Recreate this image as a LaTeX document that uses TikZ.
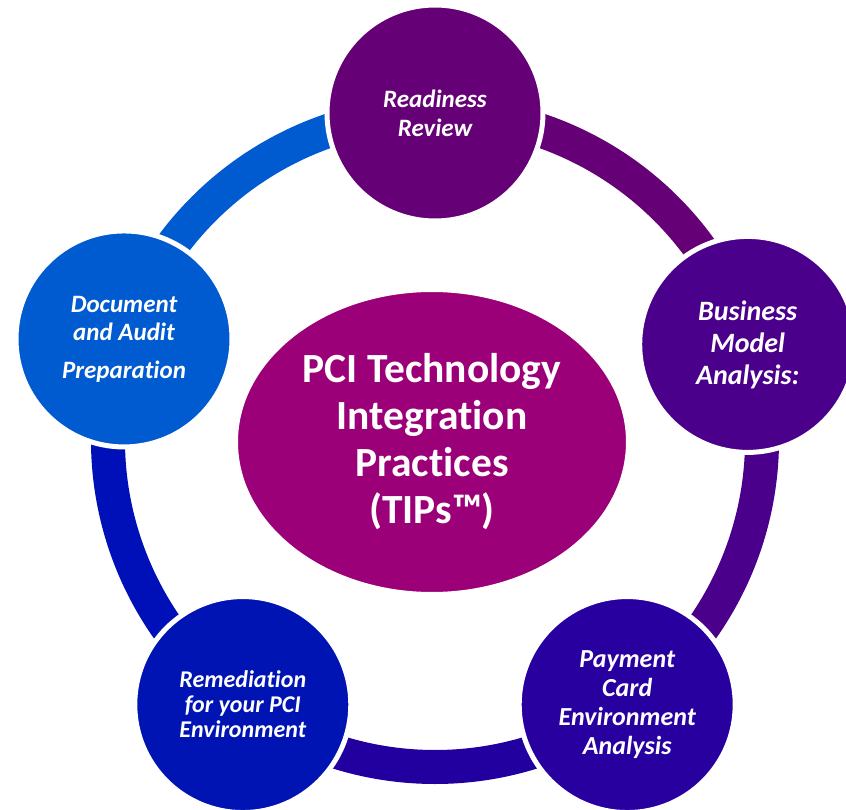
\documentclass[tikz,border=0pt]{standalone}
\usepackage{fontspec}
\setmainfont{Carlito}[Ligatures=NoCommon]
\usetikzlibrary{shapes.geometric,backgrounds}
\definecolor{cRR}{HTML}{660077}
\definecolor{cDA}{HTML}{005AD0}
\definecolor{cBM}{HTML}{4B008C}
\definecolor{cPC}{HTML}{2800A0}
\definecolor{cRE}{HTML}{0014B4}
\definecolor{cMID}{HTML}{9B0078}
\definecolor{aTL}{HTML}{005AD0}
\definecolor{aL}{HTML}{0010B8}
\definecolor{aB}{HTML}{2200A0}
\definecolor{aR}{HTML}{4B008C}
\definecolor{aTR}{HTML}{660077}
\begin{document}
\begin{tikzpicture}[x=1pt,y=1pt,
  stage/.style={circle, minimum size=216pt, inner sep=0pt, draw=white, line width=5pt, text=white, align=center},
  ringarc/.style={line width=34pt},
  hub/.style={ellipse, minimum width=390pt, minimum height=302pt, inner sep=0pt, fill=cMID, draw=white, line width=2pt, text=white, align=center, font=\bfseries\fontsize{41.5}{47}\selectfont}]
\useasboundingbox (-435,-369) rectangle (411,440);
\node[stage, fill=cRR, font=\bfseries\itshape\fontsize{25}{29}\selectfont] (rr) at (90:327) {Readiness\\Review};
\node[stage, fill=cDA, font=\bfseries\itshape\fontsize{25}{28}\selectfont] (da) at (162:327) {Document\\and Audit\\[10pt]Preparation};
\node[stage, fill=cBM, font=\bfseries\itshape\fontsize{28}{32}\selectfont] (bm) at (17:327) {Business\\Model\\Analysis:};
\node[stage, fill=cPC, font=\bfseries\itshape\fontsize{26}{29}\selectfont] (pc) at (306:327) {Payment\\Card\\Environment\\Analysis};
\node[stage, fill=cRE, font=\bfseries\itshape\fontsize{24}{25}\selectfont] (re) at (234:327) {Remediation\\for your PCI\\Environment};
\node[hub] (hub) at (-3,-2) {PCI Technology\\Integration\\Practices\\(TIPs™)};
\begin{pgfonlayer}{background}
\fill[white] (-435,-369) rectangle (411,440);
\draw[ringarc, aTL] (rr.center) arc[start angle=90, end angle=162, radius=327pt];
\draw[ringarc, aL] (da.center) arc[start angle=162, end angle=234, radius=327pt];
\draw[ringarc, aB] (re.center) arc[start angle=234, end angle=306, radius=327pt];
\draw[ringarc, aR] (pc.center) arc[start angle=306, end angle=377, radius=327pt];
\draw[ringarc, aTR] (bm.center) arc[start angle=17, end angle=90, radius=327pt];
\end{pgfonlayer}
\end{tikzpicture}
\end{document}
